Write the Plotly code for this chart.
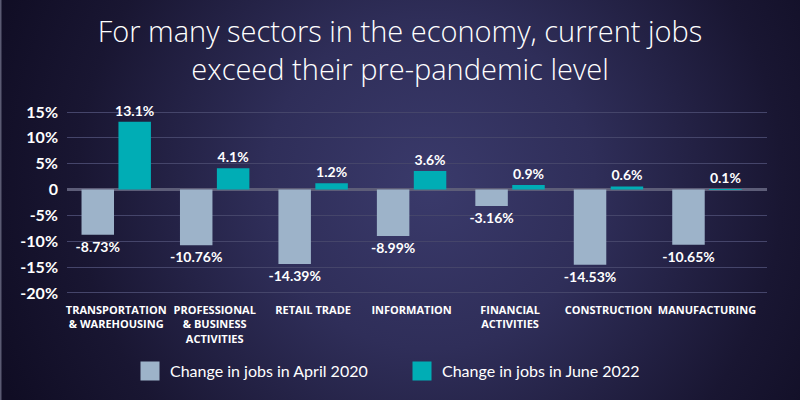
import base64
import plotly.graph_objects as go

# ---- data ----
categories = [
    "TRANSPORTATION<br>& WAREHOUSING",
    "PROFESSIONAL<br>& BUSINESS<br>ACTIVITIES",
    "RETAIL TRADE",
    "INFORMATION",
    "FINANCIAL<br>ACTIVITIES",
    "CONSTRUCTION",
    "MANUFACTURING",
]
april_2020 = [-8.73, -10.76, -14.39, -8.99, -3.16, -14.53, -10.65]
june_2022 = [13.1, 4.1, 1.2, 3.6, 0.9, 0.6, 0.1]
series_names = ["Change in jobs in April 2020", "Change in jobs in June 2022"]
y_ticks = [-20, -15, -10, -5, 0, 5, 10, 15]
y_tick_labels = [("0" if v == 0 else f"{v}%") for v in y_ticks]

title_text = "For many sectors in the economy, current jobs<br>exceed their pre-pandemic level"

# ---- layout geometry ----
W, H = 800, 400
ML, MR, MT, MB = 67, 33, 107, 105
PW, PH = W - ML - MR, H - MT - MB

FONT = "Lato"
LIGHT = "#9db3c9"
TEAL = "#00adb5"

svg = f'''<svg xmlns="http://www.w3.org/2000/svg" width="{W}" height="{H}">
<defs><radialGradient id="g" gradientUnits="userSpaceOnUse" cx="430" cy="185" r="470">
<stop offset="0" stop-color="#3a3a6b"/>
<stop offset="0.35" stop-color="#2f2e59"/>
<stop offset="0.75" stop-color="#191632"/>
<stop offset="1" stop-color="#100d24"/>
</radialGradient></defs>
<rect width="{W}" height="{H}" fill="url(#g)"/>
<rect x="0" y="0" width="1.5" height="{H}" fill="#5a5a72"/>
</svg>'''
bg_uri = "data:image/svg+xml;base64," + base64.b64encode(svg.encode()).decode()

fig = go.Figure()
for vals, color in ((april_2020, LIGHT), (june_2022, TEAL)):
    fig.add_trace(go.Bar(
        x=categories, y=vals, showlegend=False,
        marker=dict(color=color, line=dict(width=0)),
        text=[f"{v:g}%" for v in vals], textposition="outside",
        textfont=dict(family=FONT, size=14, color="white", weight="bold"),
        cliponaxis=False, constraintext="none",
    ))
# legend entries (square swatches)
for name, color in zip(series_names, (LIGHT, TEAL)):
    fig.add_trace(go.Scatter(
        x=[None], y=[None], mode="markers", name=name,
        marker=dict(symbol="square", size=16, color=color,
                    line=dict(color=color, width=3)),
    ))

fig.update_layout(
    width=W, height=H,
    margin=dict(l=ML, r=MR, t=MT, b=MB),
    paper_bgcolor="#1c1a38",
    plot_bgcolor="rgba(0,0,0,0)",
    barmode="group", bargap=0.25, bargroupgap=0.12,
    font=dict(family=FONT, color="white"),
    title=dict(
        text=title_text, x=0.5, xanchor="center", xref="container",
        y=1 - 42 / H, yanchor="middle", yref="container",
        font=dict(family="Open Sans", size=29, color="white", weight=300),
    ),
    showlegend=True,
    legend=dict(
        orientation="h", x=(130 - ML) / PW, xanchor="left",
        y=-76 / PH, yanchor="middle",
        font=dict(family=FONT, size=16, color="white"),
        bgcolor="rgba(0,0,0,0)", entrywidth=227, entrywidthmode="pixels",
        traceorder="normal", itemclick=False,
    ),
    xaxis=dict(
        type="category", range=[-0.5, 6.61],
        showgrid=False, showline=False, ticks="",
        tickfont=dict(family="Open Sans", size=11, color="white", weight="bold"),
        ticklabelstandoff=7, tickangle=0,
    ),
    yaxis=dict(
        range=[-20.39, 15.97], tickvals=y_ticks, ticktext=y_tick_labels,
        showgrid=True, gridcolor="#45456a", gridwidth=1,
        zeroline=True, zerolinecolor="#5d5d78", zerolinewidth=2.5,
        showline=False, ticks="",
        tickfont=dict(family=FONT, size=16, color="white", weight="bold"),
        ticklabelstandoff=8,
    ),
    images=[dict(
        source=bg_uri, xref="paper", yref="paper",
        x=-ML / PW, y=1 + MT / PH, sizex=W / PW, sizey=H / PH,
        xanchor="left", yanchor="top", sizing="stretch", layer="below",
    )],
)

fig.write_html("out.html")
